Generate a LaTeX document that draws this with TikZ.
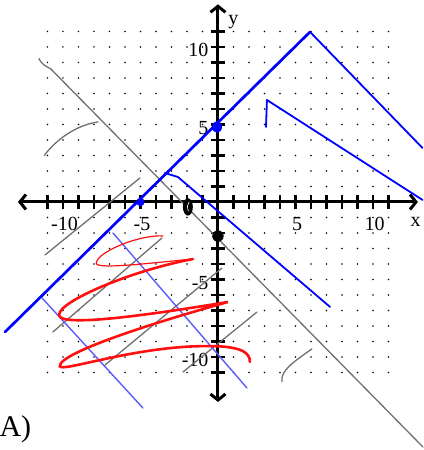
\documentclass[tikz,border=0pt]{standalone}
\usepackage{fontspec}
\setmainfont{Liberation Serif}
\usetikzlibrary{arrows.meta}
\definecolor{PB}{HTML}{0000FF}
\definecolor{LB}{HTML}{5C5CFF}
\definecolor{GL}{HTML}{707070}
\definecolor{RL}{HTML}{FF1010}

\begin{document}
\begin{tikzpicture}[x=15.5pt,y=15.5pt,
    font=\fontsize{20}{24}\selectfont,
    axisline/.style={line width=3pt,
      {Straight Barb[length=6pt,width=15pt]}-{Straight Barb[length=6pt,width=15pt]}},
    tickmark/.style={line width=2.6pt},
    penblue/.style={PB, line width=2.5pt, line cap=round, line join=round},
    thinblue/.style={LB, line width=1.4pt, line cap=round},
    pengray/.style={GL, line width=1.3pt, line cap=round, line join=round},
    penred/.style={RL, line width=2.6pt, line cap=round}]
  \useasboundingbox (-14.06,-16.0) rectangle (13.23,13.03);

  % dotted grid
  \foreach \i in {-11,...,11}
    \foreach \j in {-11,...,11}
      {\ifnum\i=0\else\ifnum\j=0\else\fill (\i,\j) circle (0.85pt);\fi\fi}

  % axes
  \draw[axisline] (-12.9,0) -- (12.9,0);
  \draw[axisline] (0,-12.9) -- (0,12.75);
  \foreach \k in {-11,...,-1,1,2,...,11} {
    \draw[tickmark] (\k,-0.48) -- (\k,0.48);
    \draw[tickmark] (-0.48,\k) -- (0.48,\k);
  }
  \foreach \k in {-10,-5,5,10} {
    \node (xt\k) at (\k+0.1,-1.42) {\k};
    \node[anchor=east, inner sep=0pt] (yt\k) at (-0.6,\k-0.2) {\k};
  }
  \node (xlab) at (12.75,-1.3) {x};
  \node (ylab) at (1.0,11.6) {y};
  \node[anchor=base west, inner sep=0pt, font=\fontsize{30}{36}\selectfont]
    (part) at (-14.1,-15.16) {A)};

  % gray strokes
  \draw[pengray] (-11.55,9.25) .. controls (-11.4,8.9) and (-11.1,8.75) .. (-10.8,8.6)
    -- (13.23,-15.81);
  \draw[pengray] (-7.74,5.16) .. controls (-9.0,5.0) and (-10.4,4.1) .. (-11.2,3.0);
  \draw[pengray] (-5.03,1.55) -- (-11.16,-3.42);
  \draw[pengray] (-3.61,-2.32) -- (-10.65,-8.39);
  \draw[pengray] (0.26,-4.26) -- (-7.29,-10.52);
  \draw[pengray] (2.52,-7.1) -- (-2.26,-10.97);
  \draw[pengray] (6.06,-9.48) .. controls (4.9,-10.3) and (4.0,-10.9) .. (4.13,-11.6);

  % blue strokes
  \draw[thinblue] (-6.77,-2.0) -- (1.87,-12.0);
  \draw[thinblue] (-11.35,-6.19) -- (-4.84,-13.29);
  \draw[penblue, line width=1.8pt] (-3.42,1.87) -- (-2.58,1.61) -- (7.23,-6.77);
  \draw[penblue, line width=1.8pt] (3.1,4.84) -- (3.16,6.58) -- (13.2,0.13);
  \draw[penblue, line width=2.7pt] (-13.74,-8.39) -- (5.94,10.97);
  \draw[penblue, line width=1.8pt] (5.94,10.97) -- (13.2,3.48);
  \fill[PB] (-5,0) circle (0.27);
  \fill[PB] (-0.06,4.84) ellipse (0.32 and 0.38);

  % black marks
  \fill (-1.94,-0.32) ellipse (0.32 and 0.56);
  \draw[white, line width=0.6pt] (-1.9,-0.6) .. controls (-2.0,-0.3) .. (-1.85,0.0);
  \fill (0,-2.2) circle (0.37);

  % red scribble
  \draw[RL, line width=1.2pt, line cap=round]
    (-3.55,-2.19) .. controls (-5.03,-2.1) and (-7.8,-3.2) .. (-7.85,-3.95)
    .. controls (-7.9,-4.4) and (-3.74,-3.87) .. (-1.61,-3.68);
  \draw[penred] (-1.61,-3.68) .. controls (-5.5,-4.4) and (-10.3,-6.4) .. (-10.25,-7.3)
    .. controls (-10.2,-8.1) and (-4.5,-7.3) .. (0.65,-6.45)
    .. controls (-3.5,-7.6) and (-10.3,-9.7) .. (-10.2,-10.6)
    .. controls (-10.1,-11.0) and (-5.5,-9.35) .. (-1.0,-9.3)
    .. controls (1.2,-9.25) and (2.1,-9.6) .. (2.06,-10.32);
\end{tikzpicture}
\end{document}
